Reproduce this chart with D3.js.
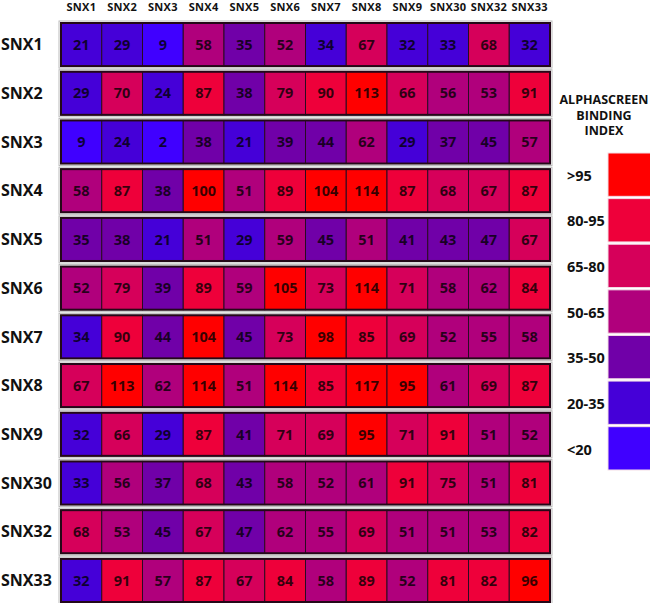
<!DOCTYPE html>
<html>
<head>
<meta charset="utf-8">
<script src="https://cdn.jsdelivr.net/npm/d3@7"></script>
<style>
  body { margin: 0; background: #fff; }
  text { font-family: "Open Sans", sans-serif; font-weight: 700; }
</style>
</head>
<body>
<svg id="chart" width="650" height="603"></svg>
<script>
// column / row proteins
var colLabels = ["SNX1","SNX2","SNX3","SNX4","SNX5","SNX6","SNX7","SNX8","SNX9","SNX30","SNX32","SNX33"];
var rowLabels = ["SNX1","SNX2","SNX3","SNX4","SNX5","SNX6","SNX7","SNX8","SNX9","SNX30","SNX32","SNX33"];

// binding index per row
var snx1  = [21, 29, 9, 58, 35, 52, 34, 67, 32, 33, 68, 32];
var snx2  = [29, 70, 24, 87, 38, 79, 90, 113, 66, 56, 53, 91];
var snx3  = [9, 24, 2, 38, 21, 39, 44, 62, 29, 37, 45, 57];
var snx4  = [58, 87, 38, 100, 51, 89, 104, 114, 87, 68, 67, 87];
var snx5  = [35, 38, 21, 51, 29, 59, 45, 51, 41, 43, 47, 67];
var snx6  = [52, 79, 39, 89, 59, 105, 73, 114, 71, 58, 62, 84];
var snx7  = [34, 90, 44, 104, 45, 73, 98, 85, 69, 52, 55, 58];
var snx8  = [67, 113, 62, 114, 51, 114, 85, 117, 95, 61, 69, 87];
var snx9  = [32, 66, 29, 87, 41, 71, 69, 95, 71, 91, 51, 52];
var snx30 = [33, 56, 37, 68, 43, 58, 52, 61, 91, 75, 51, 81];
var snx32 = [68, 53, 45, 67, 47, 62, 55, 69, 51, 51, 53, 82];
var snx33 = [32, 91, 57, 87, 67, 84, 58, 89, 52, 81, 82, 96];
var matrix = [snx1, snx2, snx3, snx4, snx5, snx6, snx7, snx8, snx9, snx30, snx32, snx33];

// legend bins
var binThresholds = [20, 35, 50, 65, 80, 95];
var binColors = ["#4000ff", "#4500d8", "#7000a8", "#b0007c", "#d6005a", "#ee003a", "#ff0000"];
var binLabels = ["<20", "20-35", "35-50", "50-65", "65-80", "80-95", ">95"];

var svg = d3.select("#chart");
var color = d3.scaleThreshold().domain(binThresholds).range(binColors);

var x = d3.scaleBand().domain(colLabels).range([61, 550]).padding(0);
var y = d3.scaleBand().domain(rowLabels).range([23, 602]).paddingInner(0.115).paddingOuter(0);

// column headers
svg.selectAll(".colLab")
    .data(colLabels)
    .join("text")
    .attr("class", "colLab")
    .attr("x", d => x(d) + x.bandwidth()/2)
    .attr("y", 11)
    .attr("text-anchor", "middle")
    .style("font-size", "11px")
    .style("letter-spacing", "0.3px")
    .attr("fill", "#111")
    .text(d => d);

// one boxed strip per row
var rows = svg.selectAll(".row")
    .data(rowLabels)
    .join("g")
    .attr("class", "row")
    .attr("transform", d => `translate(0,${y(d)})`);

rows.append("text")
    .attr("x", 1)
    .attr("y", y.bandwidth()/2)
    .attr("dy", "0.36em")
    .style("font-size", "16px")
    .attr("fill", "#111")
    .text(d => d);

// light shadow round each strip
rows.append("rect")
    .attr("x", x.range()[0] - 2)
    .attr("y", -2)
    .attr("width", x.range()[1] - x.range()[0] + 4)
    .attr("height", y.bandwidth() + 4)
    .attr("fill", "none")
    .attr("stroke", "#bbb")
    .attr("stroke-width", 1);

rows.selectAll(".cell")
    .data((d, i) => matrix[i].map((v, j) => ({col: colLabels[j], value: v})))
    .join("rect")
    .attr("class", "cell")
    .attr("x", d => x(d.col))
    .attr("y", 0)
    .attr("width", x.bandwidth())
    .attr("height", y.bandwidth())
    .attr("fill", d => color(d.value))
    .attr("stroke", "#2a0a22")
    .attr("stroke-width", 1);

rows.append("rect")
    .attr("x", x.range()[0])
    .attr("y", 0)
    .attr("width", x.range()[1] - x.range()[0])
    .attr("height", y.bandwidth())
    .attr("fill", "none")
    .attr("stroke", "#240818")
    .attr("stroke-width", 2);

rows.selectAll(".val")
    .data((d, i) => matrix[i].map((v, j) => ({col: colLabels[j], value: v})))
    .join("text")
    .attr("class", "val")
    .attr("x", d => x(d.col) + x.bandwidth()/2)
    .attr("y", y.bandwidth()/2)
    .attr("dy", "0.36em")
    .attr("text-anchor", "middle")
    .style("font-size", "14.5px")
    .attr("fill", "#000")
    .attr("fill-opacity", 0.78)
    .text(d => d.value);

// legend
var legend = svg.append("g");
legend.selectAll(".title")
    .data(["ALPHASCREEN", "BINDING", "INDEX"])
    .join("text")
    .attr("class", "title")
    .attr("x", 604)
    .attr("y", (d, i) => 104 + i*15.5)
    .attr("text-anchor", "middle")
    .style("font-size", "12.5px")
    .attr("fill", "#111")
    .text(d => d);

var legendOrder = d3.range(binColors.length).reverse();
var ly = d3.scaleBand().domain(legendOrder).range([153, 470]).paddingInner(0.05);

legend.selectAll(".swatch")
    .data(legendOrder)
    .join("rect")
    .attr("class", "swatch")
    .attr("x", 608)
    .attr("y", d => ly(d))
    .attr("width", 44)
    .attr("height", ly.bandwidth())
    .attr("fill", d => binColors[d])
    .attr("stroke", "#f4dde6")
    .attr("stroke-width", 1);

legend.selectAll(".binLab")
    .data(legendOrder)
    .join("text")
    .attr("class", "binLab")
    .attr("x", 567)
    .attr("y", d => ly(d) + ly.bandwidth()/2 + 1)
    .attr("dy", "0.36em")
    .style("font-size", "14.5px")
    .attr("fill", "#111")
    .text(d => binLabels[d]);
</script>
</body>
</html>
